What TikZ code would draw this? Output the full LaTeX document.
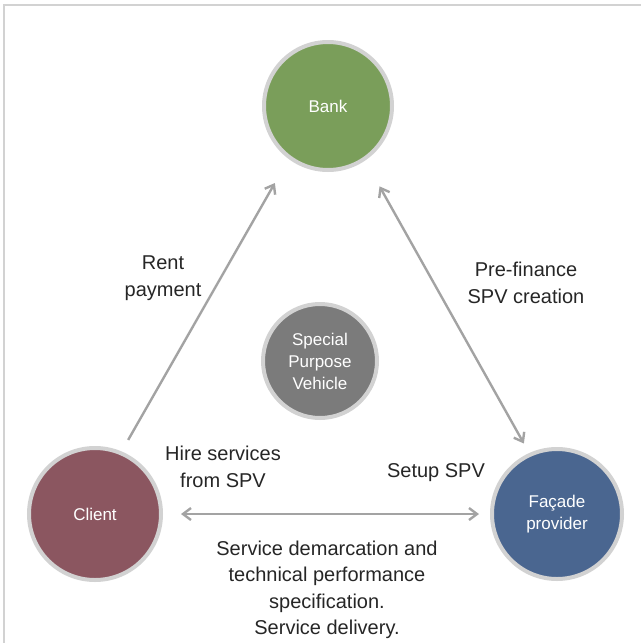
\documentclass[tikz,border=0pt]{standalone}
\usepackage{fontspec}
\setmainfont{Liberation Sans}
\usetikzlibrary{arrows.meta}

\definecolor{bankgreen}{HTML}{7A9E5A}
\definecolor{clientred}{HTML}{8B5660}
\definecolor{facadeblue}{HTML}{4A6690}
\definecolor{spvgrey}{HTML}{7B7B7B}
\definecolor{ringgrey}{HTML}{D2D2D2}
\definecolor{arrowgrey}{HTML}{A3A3A3}

\begin{document}
\begin{tikzpicture}[x=1pt, y=-1pt, party/.style={draw=ringgrey, circle, line width=4pt, text=white, align=center, font=\fontsize{17}{22}\selectfont, inner sep=0pt}, lbl/.style={align=center, text=black!85, font=\fontsize{20}{26.5}\selectfont}, n/.style={-{Straight Barb[length=8pt, width=12pt]}, line width=2.4pt, draw=arrowgrey}, b/.style={{Straight Barb[length=8pt, width=12pt]}-{Straight Barb[length=8pt, width=12pt]}, line width=2.4pt, draw=arrowgrey}]
            \useasboundingbox (0,0) rectangle (641,643);
            % frame
            \draw[ringgrey, line width=1.5pt] (4,643) -- (4,5) -- (641,5);
            % nodes
            \node[party, fill=bankgreen, minimum size=128pt] (bank) at (328,106) {Bank};
            \node[party, fill=clientred, minimum size=132pt] (client) at (95,514) {Client};
            \node[party, fill=facadeblue, minimum size=130pt] (facade) at (557,514) {Façade\\provider};
            \node[party, fill=spvgrey, minimum size=114pt] (spv) at (320,361) {Special\\Purpose\\Vehicle};
            % labels
            \node[lbl] (rent) at (163,278) {Rent\\payment};
            \node[lbl] (prefin) at (526,283) {Pre-finance\\SPV creation};
            \node[lbl] (hire) at (223,467) {Hire services\\from SPV};
            \node[lbl] (setup) at (436,473) {Setup SPV};
            \node[lbl] (service) at (327,590) {Service demarcation and\\technical performance\\specification.\\Service delivery.};
            % edges
            \draw[n, shorten <=15pt, shorten >=25pt, transform canvas={xshift=-8pt, yshift=2pt}] (client) -- (bank);
            \draw[b, shorten <=25pt, shorten >=15pt, transform canvas={xshift=7pt, yshift=-1pt}] (bank) -- (facade);
            \draw[b, shorten <=18pt, shorten >=11pt] (client) -- (facade);
        \end{tikzpicture}
\end{document}
